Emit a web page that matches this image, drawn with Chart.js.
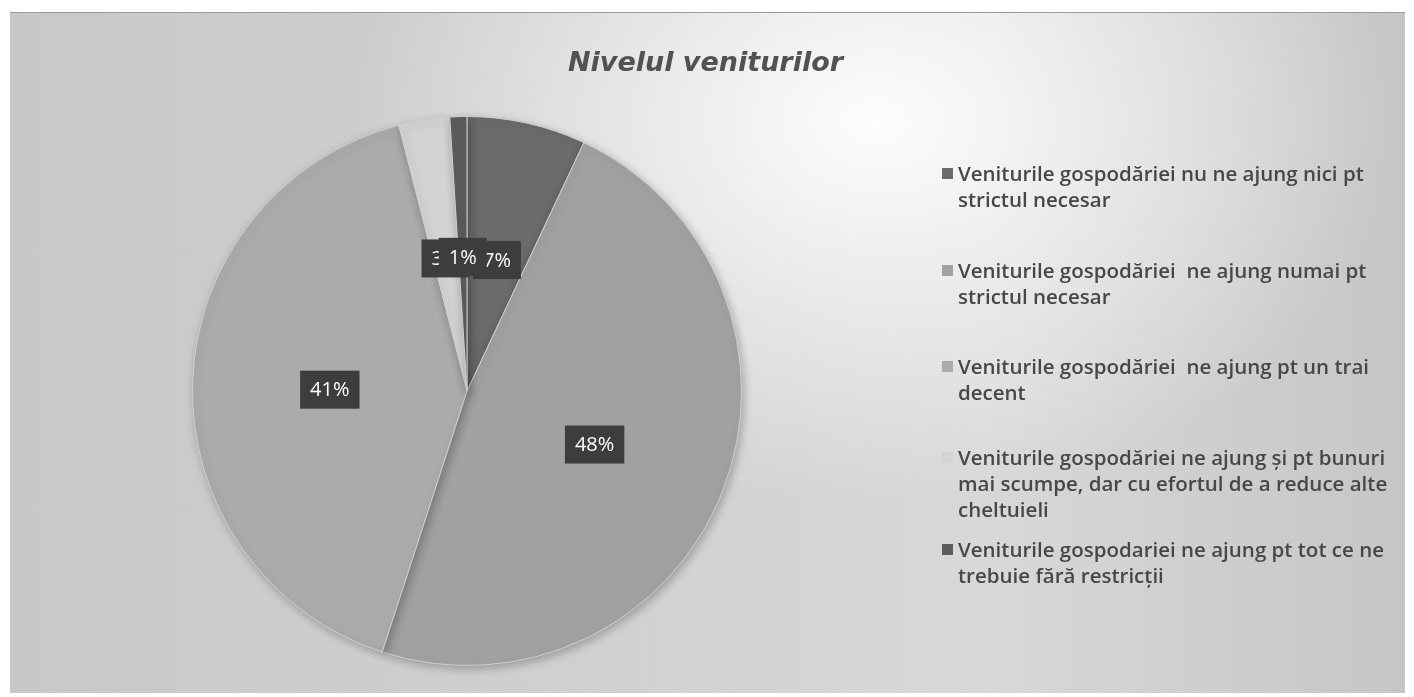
<!DOCTYPE html>
<html>
<head>
<meta charset="utf-8">
<script src="https://cdn.jsdelivr.net/npm/chart.js@4.4.1/dist/chart.umd.min.js"></script>
<style>
  html, body { margin: 0; padding: 0; background: #fff; }
  #page { position: relative; width: 1414px; height: 697px; overflow: hidden; }
  #frame {
    position: absolute; left: 10px; top: 12px; width: 1395px; height: 680px;
    border-top: 1px solid #9a9a9a;
    background:
      radial-gradient(ellipse 520px 380px at 62% 16%, rgba(255,255,255,0.95) 0%, rgba(255,255,255,0.5) 45%, rgba(255,255,255,0) 100%),
      linear-gradient(90deg, #c8c8c8 0%, #d0d0d0 40%, #d8d8d8 70%, #c6c6c6 100%);
  }
  #frame canvas { position: absolute; left: 0; top: 0; }
  #legend {
    position: absolute; left: 928px; top: 137px; width: 470px;
    font-family: "Open Sans", sans-serif; font-weight: 600; font-size: 20.5px;
    color: #474747; line-height: 26px;
  }
  .item { position: absolute; left: 0; padding-left: 20px; white-space: nowrap; }
  .swatch { position: absolute; left: 4px; top: 8px; width: 11px; height: 11px; }
</style>
</head>
<body>
<div id="page">
  <div id="frame">
    <canvas id="pie" width="1395" height="680"></canvas>
    <div id="legend"></div>
  </div>
</div>
<script>
  const categories = [
    "Veniturile gospodăriei nu ne ajung nici pt strictul necesar",
    "Veniturile gospodăriei  ne ajung numai pt strictul necesar",
    "Veniturile gospodăriei  ne ajung pt un trai decent",
    "Veniturile gospodăriei ne ajung și pt bunuri mai scumpe, dar cu efortul de a reduce alte cheltuieli",
    "Veniturile gospodariei ne ajung pt tot ce ne trebuie fără restricții",
  ];
  // legend lines, broken the same way as the labels wrap
  const legendLines = [
    ["Veniturile gospodăriei nu ne ajung nici pt", "strictul necesar"],
    ["Veniturile gospodăriei  ne ajung numai pt", "strictul necesar"],
    ["Veniturile gospodăriei  ne ajung pt un trai", "decent"],
    ["Veniturile gospodăriei ne ajung și pt bunuri", "mai scumpe, dar cu efortul de a reduce alte", "cheltuieli"],
    ["Veniturile gospodariei ne ajung pt tot ce ne", "trebuie fără restricții"],
  ];
  const shares = [7, 48, 41, 3, 1];
  const sliceColors = ["#6b6b6b", "#a1a1a1", "#ababab", "#d3d3d3", "#5c5c5c"];
  const legendTops = [10, 107, 203, 294, 386];
  const chartTitle = "Nivelul veniturilor";

  // HTML legend
  const legend = document.getElementById("legend");
  categories.forEach((name, i) => {
    const div = document.createElement("div");
    div.className = "item";
    div.style.top = legendTops[i] + "px";
    div.title = name;
    div.innerHTML = legendLines[i].map(l => l.replace(/ {2}/g, " &nbsp;")).join("<br>");
    const sw = document.createElement("span");
    sw.className = "swatch";
    sw.style.background = sliceColors[i];
    div.appendChild(sw);
    legend.appendChild(div);
  });

  // title centred on the whole canvas, not just the pie area
  const wideTitle = {
    id: "wideTitle",
    afterDraw(chart) {
      const ctx = chart.ctx;
      ctx.save();
      ctx.font = 'italic bold 27px "DejaVu Sans", sans-serif';
      ctx.fillStyle = "#525252";
      ctx.textAlign = "center";
      ctx.textBaseline = "middle";
      ctx.fillText(chartTitle, chart.width / 2 - 2, 51);
      ctx.restore();
    },
  };

  // dark boxes with the percentage, placed at the middle of each slice
  const percentBoxes = {
    id: "percentBoxes",
    afterDatasetsDraw(chart) {
      const ctx = chart.ctx;
      const meta = chart.getDatasetMeta(0);
      ctx.save();
      ctx.font = '20px "Open Sans", sans-serif';
      ctx.textAlign = "center";
      ctx.textBaseline = "middle";
      meta.data.forEach((arc, i) => {
        const p = arc.tooltipPosition();
        const text = shares[i] + "%";
        const w = ctx.measureText(text).width + 20;
        const h = 38;
        const x = p.x, y = p.y + 3;
        ctx.fillStyle = "#3d3d3d";
        ctx.fillRect(x - w / 2, y - h / 2, w, h);
        ctx.fillStyle = "#ffffff";
        ctx.fillText(text, x, y + 1);
      });
      ctx.restore();
    },
  };

  // soft shadow round the pie
  const pieShadow = {
    id: "pieShadow",
    beforeDatasetsDraw(chart) {
      const ctx = chart.ctx;
      ctx.save();
      ctx.shadowColor = "rgba(0,0,0,0.25)";
      ctx.shadowBlur = 10;
      ctx.shadowOffsetX = 2;
      ctx.shadowOffsetY = 3;
    },
    afterDatasetsDraw(chart) {
      chart.ctx.restore();
    },
  };

  new Chart(document.getElementById("pie"), {
    type: "pie",
    data: {
      labels: categories,
      datasets: [
        {
          data: shares,
          backgroundColor: sliceColors,
          borderColor: "#cfcfcf",
          borderWidth: 1,
        },
      ],
    },
    options: {
      responsive: false,
      animation: false,
      layout: {
        padding: { left: 182, right: 663, top: 103, bottom: 27 },
      },
      plugins: {
        legend: { display: false },
        tooltip: { enabled: false },
        title: { display: false },
      },
    },
    plugins: [pieShadow, percentBoxes, wideTitle],
  });
</script>
</body>
</html>
